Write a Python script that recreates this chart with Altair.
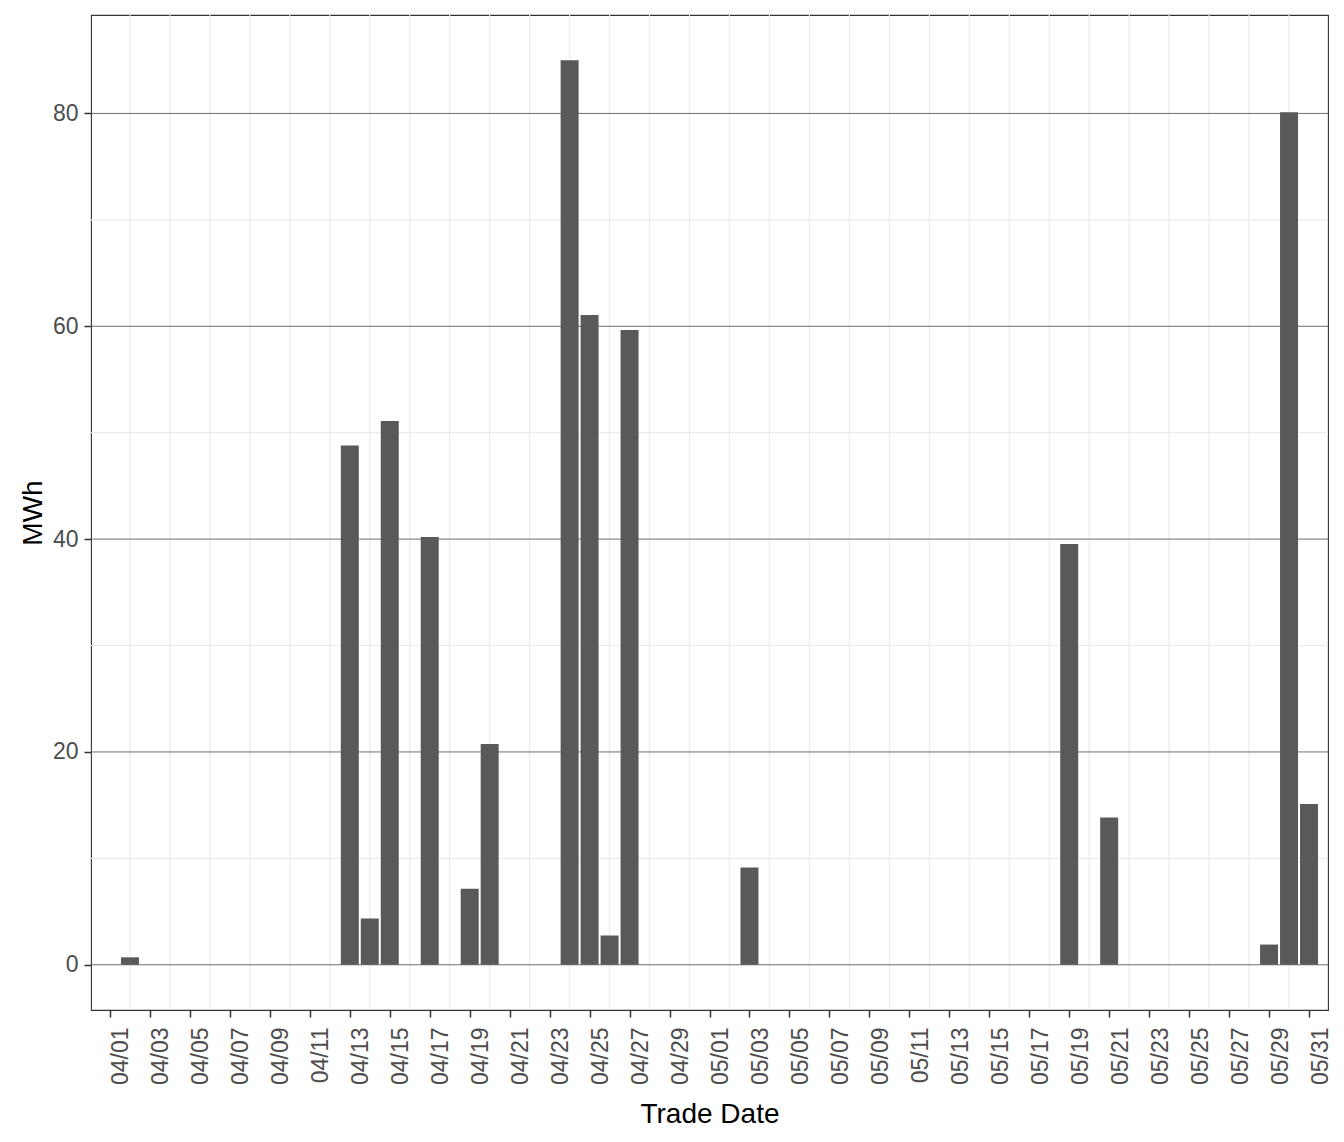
import altair as alt
import pandas as pd

# ---- data ----
bar_dates = ["2024-04-02", "2024-04-13", "2024-04-14", "2024-04-15", "2024-04-17",
             "2024-04-19", "2024-04-20", "2024-04-24", "2024-04-25", "2024-04-26",
             "2024-04-27", "2024-05-03", "2024-05-19", "2024-05-21", "2024-05-29",
             "2024-05-30", "2024-05-31"]
bar_values = [0.7, 48.8, 4.35, 51.1, 40.2,
              7.15, 20.75, 85.0, 61.05, 2.75,
              59.65, 9.15, 39.55, 13.85, 1.9,
              80.1, 15.1]

tick_dates = [d.strftime("%Y-%m-%d") for d in pd.date_range("2024-04-01", "2024-05-31", freq="2D")]
grid_dates = [d.strftime("%Y-%m-%d") for d in pd.date_range("2024-04-02", "2024-05-30", freq="2D")]
y_major = [0, 20, 40, 60, 80]
y_minor = [10, 30, 50, 70]

DAY = 86400000


def ms(s):
    return int(pd.Timestamp(s, tz="UTC").value // 10**6)


x_domain = [ms("2024-04-01") - 0.95 * DAY, ms("2024-05-31") + 0.95 * DAY]
y_domain = [-4.25, 89.25]

bars_df = pd.DataFrame({"date": bar_dates, "value": bar_values})
bars_df["t"] = [ms(d) for d in bar_dates]
grid_df = pd.DataFrame({"t": [ms(d) for d in grid_dates]})
major_df = pd.DataFrame({"y": y_major})
minor_df = pd.DataFrame({"y": y_minor})

xscale = alt.Scale(type="utc", domain=x_domain, nice=False)
yscale = alt.Scale(domain=y_domain, nice=False, zero=False)

xaxis = alt.Axis(
    values=[ms(d) for d in tick_dates],
    labelExpr="utcFormat(datum.value, '%m/%d')",
    labelAngle=270, labelAlign="right", labelBaseline="middle",
    labelOffset=11, labelPadding=10,
    labelFont="Liberation Sans", labelFontSize=23, labelColor="#4D4D4D",
    tickColor="#333333", tickWidth=1.5, tickSize=7,
    domain=False, grid=False, labelOverlap=False,
    title="Trade Date", titleFont="Liberation Sans", titleFontSize=28,
    titleFontWeight="normal", titleColor="#000000",
    titleAnchor="middle", titleY=104, titleBaseline="middle",
)
yaxis = alt.Axis(
    values=y_major, labelPadding=6,
    labelFont="Liberation Sans", labelFontSize=23, labelColor="#4D4D4D",
    tickColor="#333333", tickWidth=1.5, tickSize=7,
    domain=False, grid=False,
    title="MWh", titleFont="Liberation Sans", titleFontSize=28,
    titleFontWeight="normal", titleColor="#000000",
    titleAngle=270, titleX=-58, titleY=497.5,
    titleAlign="center", titleBaseline="middle",
)

vgrid = alt.Chart(grid_df).mark_rule(color="#EBEBEB", strokeWidth=1.2).encode(
    x=alt.X("t:T", scale=xscale, axis=xaxis)
)
hminor = alt.Chart(minor_df).mark_rule(color="#EBEBEB", strokeWidth=1.2).encode(
    y=alt.Y("y:Q", scale=yscale, axis=yaxis)
)
hmajor = alt.Chart(major_df).mark_rule(color="#5E5E5E", strokeWidth=0.9).encode(
    y=alt.Y("y:Q", scale=yscale, axis=yaxis)
)

bars = alt.Chart(bars_df).transform_calculate(
    start="datum.t - 0.45*86400000",
    end="datum.t + 0.45*86400000",
).mark_bar(color="#595959").encode(
    x=alt.X("start:T", scale=xscale, axis=xaxis),
    x2="end:T",
    y=alt.Y("value:Q", scale=yscale, axis=yaxis),
    y2=alt.datum(0),
)

chart = alt.layer(vgrid, hminor, hmajor, bars).properties(
    width=1237, height=995,
    autosize=alt.AutoSizeParams(type="none"),
    padding={"left": 83, "top": 7, "right": 8, "bottom": 127},
    background="white",
).configure_view(stroke="#333333", strokeWidth=1.1)

chart.save("out.html", embed_options={"renderer": "svg", "actions": False})
